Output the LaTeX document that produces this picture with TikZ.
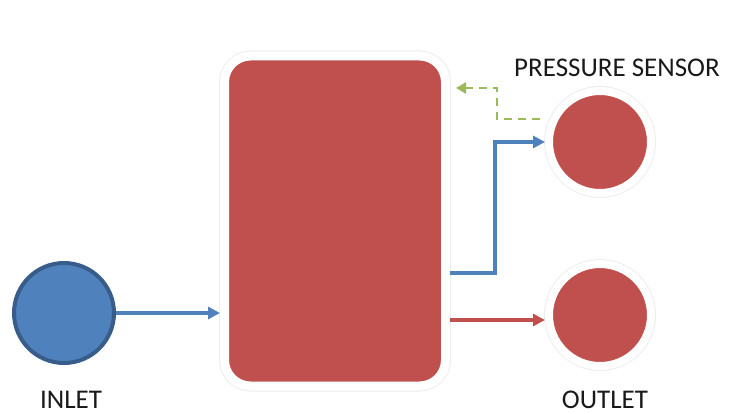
\documentclass[tikz,border=0pt]{standalone}
\usepackage{fontspec}
\setmainfont{Carlito}
\usetikzlibrary{arrows.meta,calc}
\definecolor{tankred}{HTML}{C0504D}
\definecolor{inblue}{HTML}{4F81BD}
\definecolor{inbluedark}{HTML}{385D8A}
\definecolor{sensgreen}{HTML}{9BBB59}
\tikzset{
  vessel/.style={rectangle, rounded corners=26pt, fill=tankred, draw=white, line width=9pt,
    minimum width=221pt, minimum height=330pt, inner sep=0pt,
    preaction={draw=black!7, line width=11pt}},
  redball/.style={circle, fill=tankred, draw=white, line width=8pt, minimum size=102pt, inner sep=0pt,
    preaction={draw=black!7, line width=10pt}},
  blueball/.style={circle, fill=inblue, draw=inbluedark, line width=4pt, minimum size=100pt, inner sep=0pt},
  flowblue/.style={draw=inblue, line width=3.5pt, -{Triangle[length=12pt,width=12pt]}},
  flowred/.style={draw=tankred, line width=3.5pt, -{Triangle[length=12pt,width=12pt]}},
  flowgreen/.style={draw=sensgreen, line width=2.5pt, dash pattern=on 8pt off 6pt, -{Triangle[length=10pt,width=11pt]}},
  lbl/.style={font=\fontsize{27}{32}\selectfont, text=black!90, inner sep=0pt, anchor=base}
}
\begin{document}
\begin{tikzpicture}[x=1pt,y=-1pt]
\useasboundingbox (0,0) rectangle (730,414);
\node[vessel] (tank) at (335,221) {};
\node[blueball] (inlet) at (64,313) {};
\node[redball] (sensor) at (600,142) {};
\node[redball] (outlet) at (600,315) {};
\node[lbl] (tsensor) at (617,77) {PRESSURE SENSOR};
\node[lbl] (tinlet) at (71,408) {INLET};
\node[lbl] (toutlet) at (605,408) {OUTLET};
\draw[flowblue] (inlet.east) -- (tank.west |- inlet.east);
\draw[flowblue] ([yshift=-52pt]tank.east) -- ++(45,0) |- (sensor.west);
\draw[flowred] ([yshift=-99pt]tank.east) -- ([yshift=-99pt]tank.east -| outlet.west);
\coordinate (g0) at (540,119);
\coordinate (g1) at (497,88);
\draw[flowgreen, shorten >=-1pt] (g0) -| (g1) -- ([xshift=7pt]tank.east |- g1);
\end{tikzpicture}
\end{document}
